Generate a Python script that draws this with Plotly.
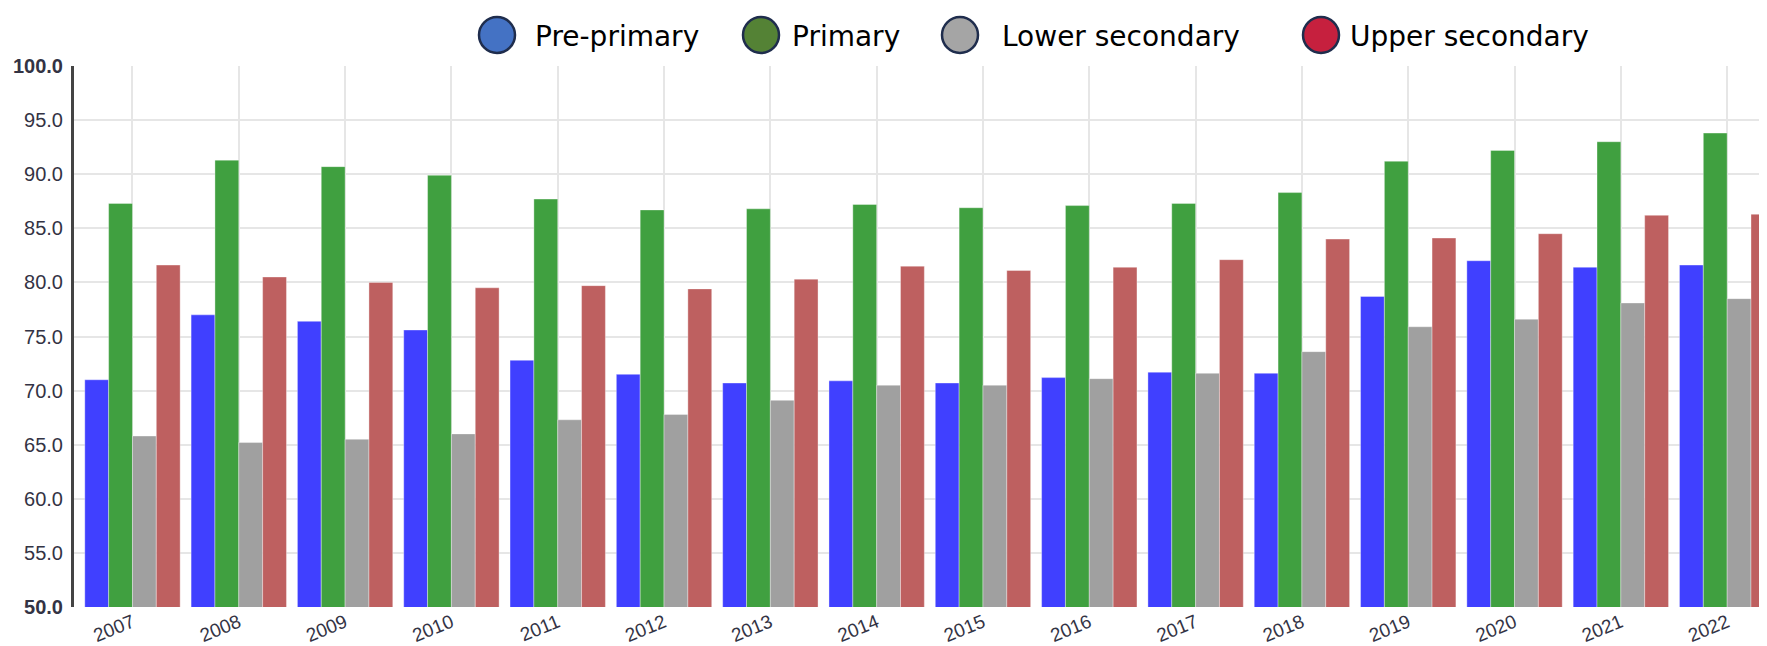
import plotly.graph_objects as go

years = ["2007", "2008", "2009", "2010", "2011", "2012", "2013", "2014",
         "2015", "2016", "2017", "2018", "2019", "2020", "2021", "2022"]
pre_primary = [71.0, 77.0, 76.4, 75.6, 72.8, 71.5, 70.7, 70.9,
               70.7, 71.2, 71.7, 71.6, 78.7, 82.0, 81.4, 81.6]
primary = [87.3, 91.3, 90.7, 89.9, 87.7, 86.7, 86.8, 87.2,
           86.9, 87.1, 87.3, 88.3, 91.2, 92.2, 93.0, 93.8]
lower_secondary = [65.8, 65.2, 65.5, 66.0, 67.3, 67.8, 69.1, 70.5,
                   70.5, 71.1, 71.6, 73.6, 75.9, 76.6, 78.1, 78.5]
upper_secondary = [81.6, 80.5, 80.0, 79.5, 79.7, 79.4, 80.3, 81.5,
                   81.1, 81.4, 82.1, 84.0, 84.1, 84.5, 86.2, 86.3]

series_names = ["Pre-primary", "Primary", "Lower secondary", "Upper secondary"]
series_values = [pre_primary, primary, lower_secondary, upper_secondary]
bar_colors = ["#4040FF", "#40A040", "#A0A0A0", "#BE6060"]
legend_colors = ["#4472C4", "#548235", "#A5A5A5", "#C6203E"]

y_ticks = [50, 55, 60, 65, 70, 75, 80, 85, 90, 95, 100]
y_ticktext = [("<b>%.1f</b>" % v) if v in (50, 100) else ("%.1f" % v) for v in y_ticks]

W, H = 1767, 646
ML, MR, MT, MB = 66, 0, 58, 47
PW, PH = W - ML - MR, H - MT - MB

fig = go.Figure()
for name, vals, col in zip(series_names, series_values, bar_colors):
    fig.add_trace(go.Bar(
        x=years, y=vals, name=name, showlegend=False,
        marker=dict(color=col, line=dict(color="rgba(255,255,255,0.35)", width=1)),
        hoverinfo="skip",
    ))

def px_x(p):
    return (p - ML) / PW

def px_y(p):
    return (H - MB - p) / PH

# legend drawn at top (circle markers + labels), pixel positions
legend_circle_cx = [489, 753, 952, 1313]
legend_text_x = [525, 782, 992, 1340]
shapes = []
annotations = []
r = 18
cy = 27
for cx, tx, name, col in zip(legend_circle_cx, legend_text_x, series_names, legend_colors):
    shapes.append(dict(
        type="circle", xref="paper", yref="paper",
        x0=px_x(cx - r), x1=px_x(cx + r), y0=px_y(cy + r), y1=px_y(cy - r),
        fillcolor=col, line=dict(color="#1F2D4D", width=2.5), layer="above",
    ))
    annotations.append(dict(
        xref="paper", yref="paper", x=px_x(tx), y=px_y(cy + 2),
        xanchor="left", yanchor="middle", showarrow=False,
        text=name, font=dict(family="DejaVu Sans", size=28, color="#000000"),
    ))

fig.update_layout(
    width=W, height=H,
    margin=dict(l=ML, r=MR, t=MT, b=MB, pad=0),
    paper_bgcolor="white", plot_bgcolor="white",
    barmode="group", bargap=0.103, bargroupgap=0,
    shapes=shapes, annotations=annotations,
    font=dict(family="Liberation Sans, Arial", color="#333344"),
    xaxis=dict(
        type="category", range=[-0.55, 15.45],
        showgrid=True, gridcolor="#E6E6E6", gridwidth=1.5,
        tickangle=-22, tickfont=dict(size=19, color="#333344"),
        showline=False, ticks="",
    ),
    yaxis=dict(
        range=[50, 100], tickvals=y_ticks, ticktext=y_ticktext,
        showgrid=True, gridcolor="#E6E6E6", gridwidth=1.5,
        tickfont=dict(size=20, color="#333344"),
        showline=True, linecolor="#444444", linewidth=3,
        zeroline=False, ticks="", ticklabelstandoff=4,
    ),
)

fig.write_html("out.html")
